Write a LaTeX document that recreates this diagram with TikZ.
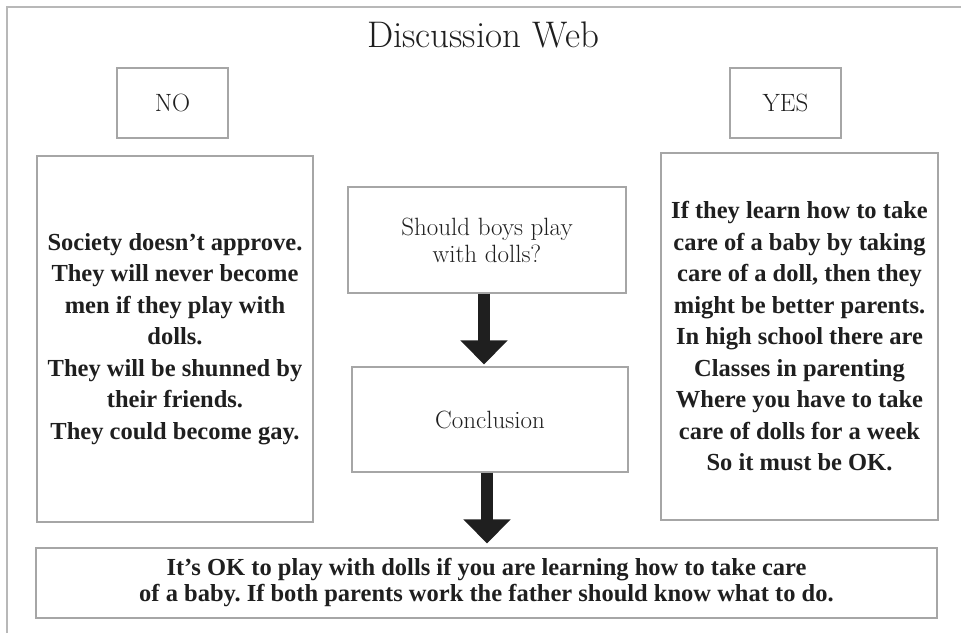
\documentclass[tikz,border=0pt]{standalone}
\usepackage{fontspec}
\usepackage{tikz}
\usetikzlibrary{arrows.meta, positioning}

\newfontfamily\boldserif{Liberation Serif}
\definecolor{boxgray}{gray}{0.65}
\definecolor{framegray}{gray}{0.72}
\definecolor{inkblack}{gray}{0.12}
\frenchspacing

\begin{document}
\begin{tikzpicture}[x = 1pt, y = -1pt,
   box/.style = {draw = boxgray, line width = 1.2pt, inner sep = 0pt, align = center, text = inkblack},
   light/.style = {font = \fontsize{25}{27}\selectfont},
   heavy/.style = {font = \boldserif\bfseries\fontsize{24.5}{31.5}\selectfont},
   bigarrow/.style = {line width = 12pt, inkblack, -{Triangle[width = 46pt, length = 24pt]}}]

\useasboundingbox (0, 0) rectangle (961, 633);
\draw[framegray, line width = 2pt] (7, 633) -- (7, 7) -- (961, 7);

\node[anchor = base, text = inkblack, font = \fontsize{37}{42}\selectfont] (title) at (483, 47) {Discussion Web};

\node[box, light, minimum width = 111pt, minimum height = 70pt] (no) at (172.5, 103) {NO};
\node[box, light, minimum width = 111pt, minimum height = 70pt] (yes) at (785.5, 103) {YES};

\node[box, heavy, minimum width = 276pt, minimum height = 366pt] (against) at (175, 339)
   {Society doesn’t approve.\\ They will never become\\ men if they play with\\ dolls.\\
    They will be shunned by\\ their friends.\\ They could become gay.};
\node[box, heavy, minimum width = 277pt, minimum height = 367pt] (for) at (799.5, 336.5)
   {If they learn how to take\\ care of a baby by taking\\ care of a doll, then they\\
    might be better parents.\\ In high school there are\\ Classes in parenting\\
    Where you have to take\\ care of dolls for a week\\ So it must be OK.};

\node[box, light, minimum width = 278pt, minimum height = 106pt] (question) at (487, 240)
   {Should boys play\\ with dolls?};
\node[box, light, minimum width = 276pt, minimum height = 105pt] (conclusion) at (490, 419.5) {Conclusion};

\node[box, heavy, font = \boldserif\bfseries\fontsize{24.5}{26}\selectfont,
   minimum width = 901pt, minimum height = 70pt] (answer) at (486.5, 583)
   {It’s OK to play with dolls if you are learning how to take care\\
    of a baby. If both parents work the father should know what to do.};

\draw[bigarrow, shorten > = 2pt] ([xshift = -3pt]question.south)
   -- ([xshift = -3pt]question.south |- conclusion.north);
\draw[bigarrow, shorten > = 4pt] ([xshift = -3pt]conclusion.south)
   -- ([xshift = -3pt]conclusion.south |- answer.north);

\end{tikzpicture}
\end{document}
